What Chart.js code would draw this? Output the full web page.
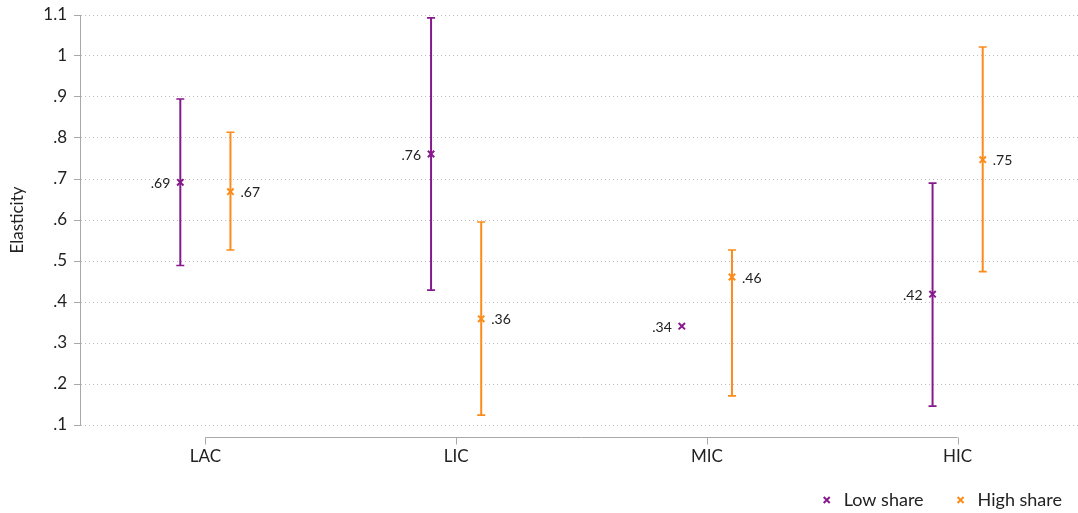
<!DOCTYPE html>
<html><head><meta charset="utf-8">
<script src="https://cdn.jsdelivr.net/npm/chart.js@4.4.0/dist/chart.umd.min.js"></script>
<style>html,body{margin:0;padding:0;background:#fff}#wrap{width:1078px;height:513px;position:relative}</style>
</head><body><div id="wrap"><canvas id="c"></canvas></div>
<script>
// ---- data ----
const categories = ['LAC', 'LIC', 'MIC', 'HIC'];
const seriesNames = ['Low share', 'High share'];
const lowEstimate = [0.692, 0.761, 0.341, 0.419];
const lowUpper    = [0.895, 1.093, null,  0.690];
const lowLower    = [0.489, 0.429, null,  0.146];
const highEstimate = [0.669, 0.359, 0.461, 0.747];
const highUpper    = [0.814, 0.595, 0.527, 1.022];
const highLower    = [0.527, 0.124, 0.171, 0.474];
const yTicks = [0.1, 0.2, 0.3, 0.4, 0.5, 0.6, 0.7, 0.8, 0.9, 1.0, 1.1];

// ---- style ----
const PURPLE = '#861a8c';
const ORANGE = '#fb8c1a';
const FONT = 'Lato, "Open Sans", sans-serif';
const OFFSET = 0.1;

function fmt(v) {
  const s = (Math.round(v * 100) / 100).toString();
  return s.startsWith('0.') ? s.slice(1) : s;
}
function fmtTick(v) {
  const s = (Math.round(v * 10) / 10).toString();
  return s.startsWith('0.') ? s.slice(1) : s;
}

function buildSeries(est, lo, hi, sign) {
  return est.map((v, i) => ({ x: i + 1 + sign * OFFSET, y: v, lo: lo[i], hi: hi[i] }));
}

const datasets = [
  { label: seriesNames[0], data: buildSeries(lowEstimate, lowLower, lowUpper, -1), color: PURPLE, side: -1 },
  { label: seriesNames[1], data: buildSeries(highEstimate, highLower, highUpper, 1), color: ORANGE, side: 1 }
].map(d => ({
  label: d.label, data: d.data, side: d.side,
  pointStyle: 'crossRot', pointRadius: 4.5, pointHoverRadius: 4.5,
  borderColor: d.color, backgroundColor: d.color, pointBorderWidth: 2, showLine: false
}));

const errorBars = {
  id: 'errorBars',
  beforeDatasetsDraw(chart) {
    const { ctx, scales: { x, y } } = chart;
    ctx.save();
    chart.data.datasets.forEach(ds => {
      ctx.strokeStyle = ds.borderColor;
      ds.data.forEach(p => {
        if (p.lo == null || p.hi == null) return;
        const px = x.getPixelForValue(p.x);
        const pl = y.getPixelForValue(p.lo), ph = y.getPixelForValue(p.hi);
        ctx.lineWidth = 2;
        ctx.beginPath(); ctx.moveTo(px, pl); ctx.lineTo(px, ph); ctx.stroke();
        ctx.lineWidth = 1.6;
        ctx.beginPath();
        ctx.moveTo(px - 4, pl); ctx.lineTo(px + 4, pl);
        ctx.moveTo(px - 4, ph); ctx.lineTo(px + 4, ph);
        ctx.stroke();
      });
    });
    ctx.restore();
  }
};

const valueLabels = {
  id: 'valueLabels',
  afterDatasetsDraw(chart) {
    const { ctx, scales: { x, y } } = chart;
    ctx.save();
    ctx.font = '14px ' + FONT;
    ctx.fillStyle = '#222';
    ctx.textBaseline = 'middle';
    chart.data.datasets.forEach(ds => {
      ds.data.forEach(p => {
        const px = x.getPixelForValue(p.x), py = y.getPixelForValue(p.y);
        if (ds.side < 0) { ctx.textAlign = 'right'; ctx.fillText(fmt(p.y), px - 10, py + 1); }
        else { ctx.textAlign = 'left'; ctx.fillText(fmt(p.y), px + 10, py + 1); }
      });
    });
    ctx.restore();
  }
};

const xAxisLine = {
  id: 'xAxisLine',
  afterDraw(chart) {
    const { ctx, chartArea, scales: { x } } = chart;
    const yy = Math.round(chartArea.bottom + 12) + 0.5;
    const x0 = x.getPixelForValue(1), x1 = x.getPixelForValue(categories.length);
    ctx.save();
    ctx.strokeStyle = '#a8a8a8';
    ctx.lineWidth = 1;
    ctx.beginPath();
    ctx.moveTo(x0, yy); ctx.lineTo(x1, yy);
    categories.forEach((c, i) => {
      const px = Math.round(x.getPixelForValue(i + 1)) + 0.5;
      ctx.moveTo(px, yy); ctx.lineTo(px, yy + 7);
    });
    ctx.stroke();
    ctx.restore();
  }
};

const customLegend = {
  id: 'customLegend',
  afterDraw(chart) {
    const { ctx } = chart;
    ctx.save();
    ctx.font = '18px ' + FONT;
    ctx.textBaseline = 'middle';
    ctx.textAlign = 'left';
    const cy = 500;
    let xr = chart.width - 16;
    const items = chart.data.datasets.slice().reverse();
    items.forEach(ds => {
      const w = ctx.measureText(ds.label).width;
      const tx = xr - w;
      ctx.fillStyle = '#222';
      ctx.fillText(ds.label, tx, cy);
      const mx = tx - 17;
      ctx.strokeStyle = ds.borderColor;
      ctx.lineWidth = 2;
      const r = 3;
      ctx.beginPath();
      ctx.moveTo(mx - r, cy - r); ctx.lineTo(mx + r, cy + r);
      ctx.moveTo(mx - r, cy + r); ctx.lineTo(mx + r, cy - r);
      ctx.stroke();
      xr = mx - 37;
    });
    ctx.restore();
  }
};

new Chart(document.getElementById('c'), {
  type: 'scatter',
  data: { datasets },
  options: {
    responsive: true,
    maintainAspectRatio: false,
    animation: false,
    layout: { autoPadding: false, padding: { top: 15, left: 0, right: 0, bottom: 0 } },
    plugins: { legend: { display: false }, tooltip: { enabled: false } },
    scales: {
      x: {
        type: 'linear', min: 0.5, max: 4.48,
        afterBuildTicks(scale) { scale.ticks = categories.map((c, i) => ({ value: i + 1 })); },
        afterFit(scale) { scale.height = 88; scale.paddingLeft = 0; scale.paddingRight = 0; },
        ticks: {
          autoSkip: false, maxRotation: 0, padding: 21,
          font: { family: FONT, size: 17 }, color: '#222',
          callback: v => categories[Math.round(v) - 1]
        },
        grid: { display: false, drawTicks: false },
        border: { display: false }
      },
      y: {
        min: 0.1, max: 1.1,
        afterBuildTicks(scale) { scale.ticks = yTicks.map(v => ({ value: v })); },
        afterFit(scale) { scale.width = 80; scale.paddingTop = 0; scale.paddingBottom = 0; },
        ticks: {
          padding: 7, font: { family: FONT, size: 17 }, color: '#222',
          callback: v => fmtTick(v)
        },
        grid: {
          color: '#bdbdbd', lineWidth: 1,
          tickLength: 6, tickColor: '#a8a8a8', tickBorderDash: [], tickWidth: 1
        },
        border: { display: true, color: '#a8a8a8', width: 1, dash: [1, 3] },
        title: {
          display: true, text: 'Elasticity', color: '#222',
          font: { family: FONT, size: 17 }, padding: { top: 7, bottom: 0 }
        }
      }
    }
  },
  plugins: [errorBars, valueLabels, xAxisLine, customLegend]
});
</script>
</body></html>
